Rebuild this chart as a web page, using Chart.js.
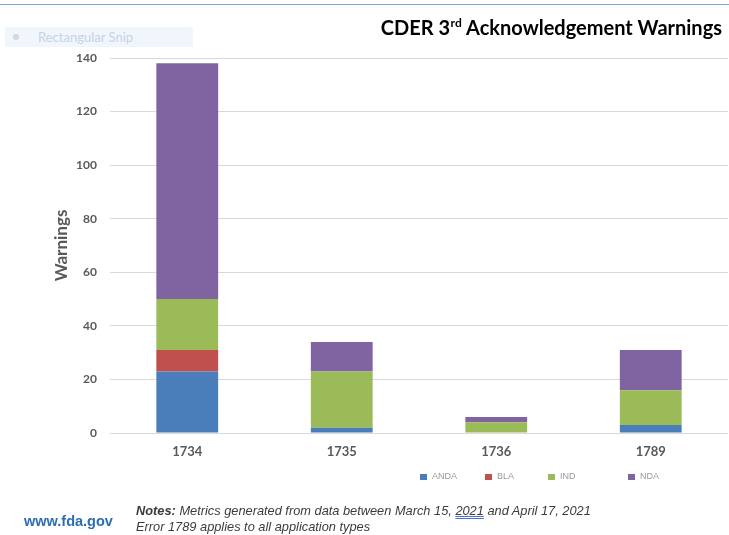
<!DOCTYPE html>
<html>
<head>
<meta charset="utf-8">
<script src="https://cdn.jsdelivr.net/npm/chart.js@4/dist/chart.umd.min.js"></script>
<style>
  html, body { margin: 0; padding: 0; background: #fff; }
  #wrap { position: relative; width: 729px; height: 535px; overflow: hidden; }
  #topline { position: absolute; left: 0; top: 4px; width: 729px; height: 1px; background: #7fa7dc; }
  #snip { position: absolute; left: 5px; top: 27px; width: 188px; height: 20px; background: #f1f6fc; font: 13px Lato, "Liberation Sans", Arial, sans-serif; color: #c6d3e2; line-height: 20px; }
  #snip .dot { position: absolute; left: 8px; top: 7px; width: 6px; height: 6px; border-radius: 3px; background: #cfd9e6; }
  #snip .txt { position: absolute; left: 33px; top: 0; }
  #legend { position: absolute; left: 420px; top: 471px; font: 9px "Liberation Sans", Arial, sans-serif; color: #9a9a9a; white-space: nowrap; }
  #legend span.item { position: absolute; top: 0; }
  #legend span.sw { display: inline-block; width: 7px; height: 6px; margin-right: 5px; vertical-align: middle; }
  #site { position: absolute; left: 24px; top: 513px; font: bold 14.5px "Liberation Sans", Arial, sans-serif; color: #2e6db4; }
  #notes { position: absolute; left: 136px; top: 503px; font: italic 12.8px "Liberation Sans", Arial, sans-serif; color: #3c3c3c; line-height: 15.5px; }
  #notes u { text-decoration: underline double #4a6fd0; }
  canvas { position: absolute; left: 0; top: 0; }
</style>
</head>
<body>
<div id="wrap">
  <canvas id="c" width="729" height="535"></canvas>
  <div id="topline"></div>
  <div id="snip"><span class="dot"></span><span class="txt">Rectangular Snip</span></div>
  <div id="legend"></div>
  <div id="site">www.fda.gov</div>
  <div id="notes"><b>Notes:</b> Metrics generated from data between March 15, <u>2021</u> and April 17, 2021<br>Error 1789 applies to all application types</div>
</div>
<script>
// ---- data ----
const categories = ['1734', '1735', '1736', '1789'];
const seriesNames = ['ANDA', 'BLA', 'IND', 'NDA'];
const seriesA = [23, 2, 0, 3];
const seriesB = [8, 0, 0, 0];
const seriesC = [19, 21, 4, 13];
const seriesD = [88, 11, 2, 15];
const yTicks = [0, 20, 40, 60, 80, 100, 120, 140];
const chartTitle = ['CDER 3', 'rd', ' Acknowledgement Warnings'];
const yAxisTitle = 'Warnings';

const colors = ['#4a7ebb', '#c0504d', '#9bbb59', '#8064a2'];
const seriesValues = [seriesA, seriesB, seriesC, seriesD];

const titlePlugin = {
  id: 'customText',
  afterDraw(chart) {
    const ctx = chart.ctx;
    ctx.save();
    // Chart title (right aligned, with superscript)
    const big = 'bold 20px Lato, "Open Sans", sans-serif';
    const small = 'bold 12px Lato, "Open Sans", sans-serif';
    ctx.font = big; const w1 = ctx.measureText(chartTitle[0]).width;
    ctx.font = small; const w2 = ctx.measureText(chartTitle[1]).width;
    ctx.font = big; const w3 = ctx.measureText(chartTitle[2]).width;
    const total = w1 + w2 + w3;
    const right = 722, base = 35;
    let x = right - total;
    ctx.fillStyle = '#000';
    ctx.textBaseline = 'alphabetic';
    ctx.textAlign = 'left';
    ctx.font = big; ctx.fillText(chartTitle[0], x, base); x += w1;
    ctx.font = small; ctx.fillText(chartTitle[1], x + 0.5, base - 8); x += w2;
    ctx.font = big; ctx.fillText(chartTitle[2], x, base);
    // Y axis title
    ctx.translate(62, (chart.chartArea.top + chart.chartArea.bottom) / 2);
    ctx.rotate(-Math.PI / 2);
    ctx.textAlign = 'center';
    ctx.textBaseline = 'middle';
    ctx.fillStyle = '#595959';
    ctx.font = 'bold 17px Lato, "Open Sans", sans-serif';
    ctx.fillText(yAxisTitle, 0, 0);
    ctx.restore();
  }
};

const chart = new Chart(document.getElementById('c'), {
  type: 'bar',
  data: {
    labels: categories,
    datasets: seriesNames.map((name, i) => ({
      label: name,
      data: seriesValues[i],
      backgroundColor: colors[i],
      borderWidth: 0,
      barPercentage: 0.4,
      categoryPercentage: 1.0
    }))
  },
  options: {
    responsive: false,
    animation: false,
    layout: { padding: { top: 58, right: 1, bottom: 0, left: 0 } },
    plugins: { legend: { display: false }, tooltip: { enabled: false }, title: { display: false } },
    scales: {
      x: {
        stacked: true,
        grid: { display: false, drawTicks: false },
        border: { display: false },
        ticks: { color: '#595959', font: { family: 'Lato, "Open Sans", sans-serif', size: 13, weight: 'bold' }, padding: 11 },
        afterFit(s) { s.height = 102; }
      },
      y: {
        stacked: true,
        min: 0, max: 140,
        afterBuildTicks(s) { s.ticks = yTicks.map(v => ({ value: v })); },
        grid: { color: '#d9d9d9', lineWidth: 1, drawTicks: false },
        border: { display: false },
        ticks: { color: '#595959', font: { family: 'Lato, "Open Sans", sans-serif', size: 12, weight: 'bold' }, padding: 13 },
        afterFit(s) { s.width = 110; }
      }
    }
  },
  plugins: [titlePlugin]
});

// HTML legend built from datasets
const legendPos = [0, 65, 128, 208];
const lg = document.getElementById('legend');
chart.data.datasets.forEach((ds, i) => {
  const it = document.createElement('span');
  it.className = 'item';
  it.style.left = legendPos[i] + 'px';
  const sw = document.createElement('span');
  sw.className = 'sw';
  sw.style.background = ds.backgroundColor;
  it.appendChild(sw);
  it.appendChild(document.createTextNode(ds.label));
  lg.appendChild(it);
});
</script>
</body>
</html>
